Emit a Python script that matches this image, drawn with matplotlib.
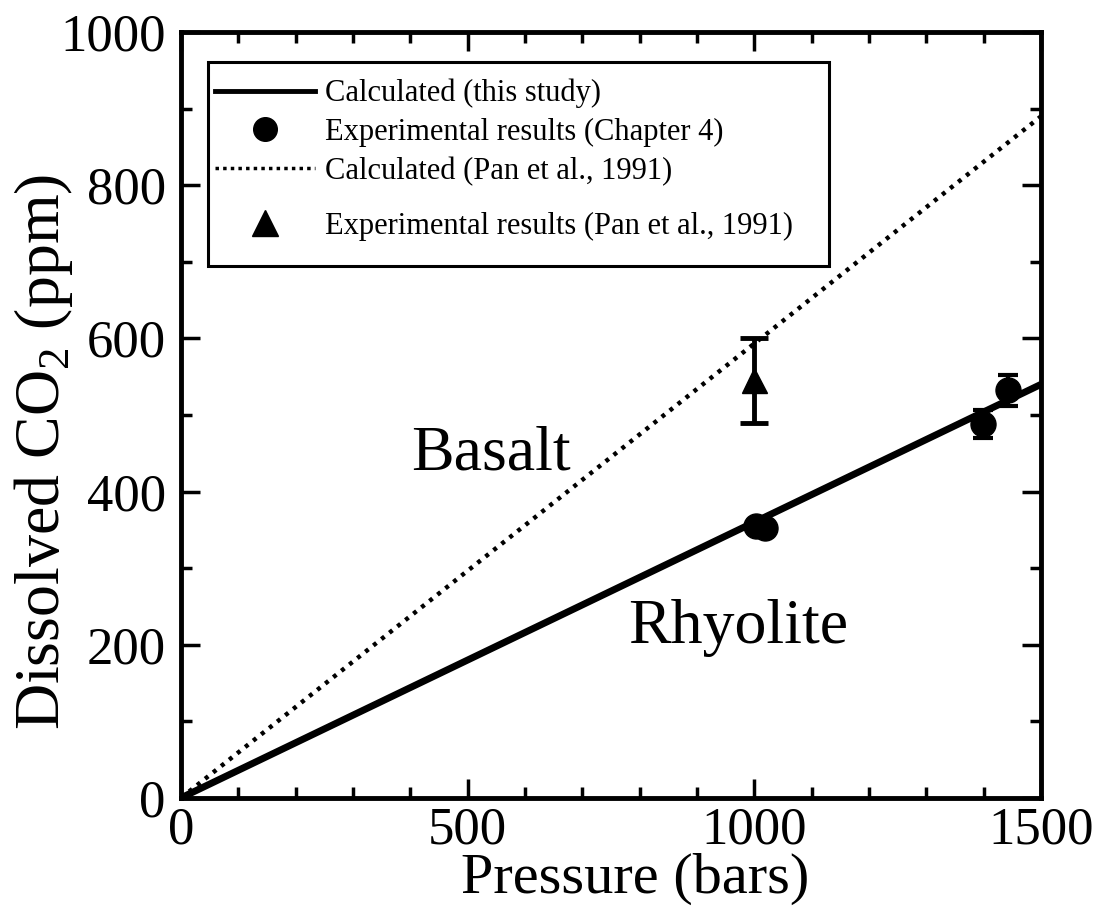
import numpy as np
import matplotlib.pyplot as plt
from matplotlib.ticker import MultipleLocator
from matplotlib.lines import Line2D
from matplotlib.patches import Rectangle

plt.rcParams['font.family'] = ['Liberation Serif', 'DejaVu Serif']
plt.rcParams['mathtext.fontset'] = 'custom'
plt.rcParams['mathtext.rm'] = 'Liberation Serif'

# --- data ---
# calculated solubility lines
pressure_line = [0, 1500]
rhyolite_calc = [0, 540]
basalt_calc = [0, 890]

# experimental results, rhyolite (this work)
rhy_p = [1003, 1018, 1398, 1442]
rhy_co2 = [355, 352, 488, 532]
rhy_err = [0, 0, 18, 20]

# experimental result, basalt (Pan et al., 1991)
bas_p = [1000]
bas_co2 = [545]
bas_err = [55]

fig = plt.figure(figsize=(11.04, 9.16), dpi=100)
ax = fig.add_axes([0.164, 0.129, 0.779, 0.836])

ax.plot(pressure_line, rhyolite_calc, color='black', lw=5,
        solid_capstyle='butt', zorder=3)
ax.errorbar(rhy_p, rhy_co2, yerr=rhy_err, fmt='o', color='black', ms=18,
            capsize=7, capthick=3, elinewidth=3, zorder=4)
ax.plot(pressure_line, basalt_calc, color='black', lw=3.2,
        linestyle=(0, (0.9, 1.4)), zorder=3)
ax.errorbar(bas_p, bas_co2, yerr=bas_err, fmt='^', color='black', ms=18,
            capsize=10, capthick=3.5, elinewidth=3.5, zorder=4)

ax.text(540, 448, 'Basalt', fontsize=46, ha='center', va='center')
ax.text(972, 222, 'Rhyolite', fontsize=46, ha='center', va='center')

ax.set_xlim(0, 1500)
ax.set_ylim(0, 1000)
ax.xaxis.set_major_locator(MultipleLocator(500))
ax.xaxis.set_minor_locator(MultipleLocator(100))
ax.yaxis.set_major_locator(MultipleLocator(200))
ax.yaxis.set_minor_locator(MultipleLocator(100))
ax.tick_params(which='both', direction='in', top=True, right=True)
ax.tick_params(which='major', length=14, width=2.5, labelsize=38)
ax.tick_params(axis='x', which='major', pad=6)
ax.tick_params(axis='y', which='major', pad=11)
ax.tick_params(which='minor', length=8, width=2.5)
for s in ax.spines.values():
    s.set_linewidth(3.5)

ax.set_xlabel('Pressure (bars)', fontsize=42)
ax.set_ylabel('Dissolved CO$_2$ (ppm)', fontsize=46)
ax.xaxis.set_label_coords(0.528, -0.072)
ax.yaxis.set_label_coords(-0.123, 0.452)

# legend: first three entries, then the Pan et al. point set a little lower
common = dict(loc='upper left', borderaxespad=0, borderpad=0, fontsize=22,
              frameon=False, handlelength=3.3, handletextpad=0.3, numpoints=1)
handles_top = [
    Line2D([], [], color='black', lw=3.5),
    Line2D([], [], color='black', marker='o', ms=17, ls='none'),
    Line2D([], [], color='black', lw=2.5, ls=(0, (1, 1.2))),
]
labels_top = ['Calculated (this study)',
              'Experimental results (Chapter 4)',
              'Calculated (Pan et al., 1991)']
leg1 = ax.legend(handles_top, labels_top, bbox_to_anchor=(0.039, 0.939),
                 labelspacing=0.32, **common)
ax.add_artist(leg1)
leg2 = ax.legend([Line2D([], [], color='black', marker='^', ms=19, ls='none')],
                 ['Experimental results (Pan et al., 1991)'],
                 bbox_to_anchor=(0.039, 0.765), **common)

# legend box
ax.add_patch(Rectangle((0.031, 0.695), 0.722, 0.266, transform=ax.transAxes,
                       fill=False, edgecolor='black', lw=2.2, zorder=5))

fig.savefig('out.png', dpi=100, facecolor='white')
